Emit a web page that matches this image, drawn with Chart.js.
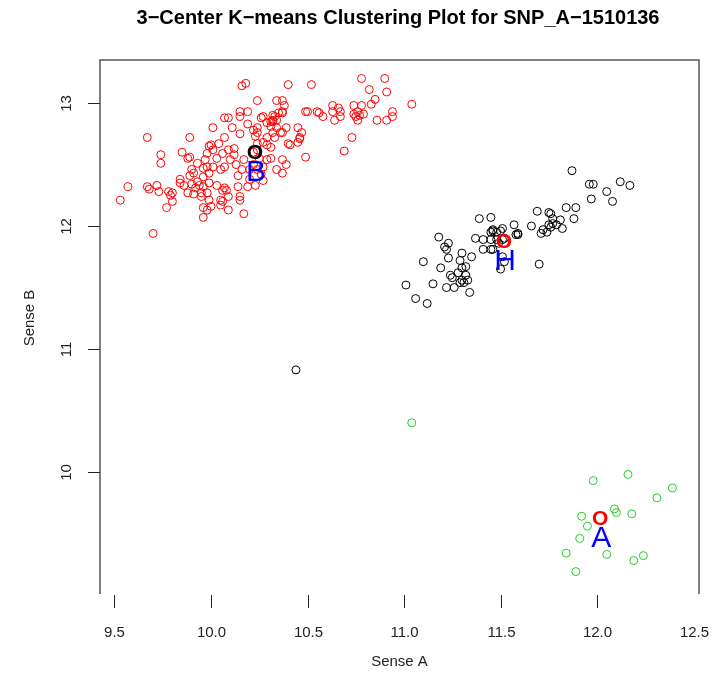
<!DOCTYPE html>
<html>
<head>
<meta charset="utf-8">
<title>K-means clustering</title>
<script src="https://cdn.jsdelivr.net/npm/chart.js@4.4.0/dist/chart.umd.min.js"></script>
<style>
  html, body { margin: 0; padding: 0; background: #fff; }
  #wrap { width: 718px; height: 673px; position: relative; }
</style>
</head>
<body>
<div id="wrap"><canvas id="kmeansChart" width="718" height="673"></canvas></div>
<script>
// Cluster B (red)
const redX = [10.16, 10.18, 10.24, 10.34, 9.67, 9.89, 10.01, 10.07, 10.09, 10.15, 10.15, 10.19, 10.19, 10.11, 10.15, 10.07,
  9.99, 10.04, 9.98, 9.85, 9.89, 9.74, 9.74, 9.90, 9.96, 9.84, 9.89, 9.57, 9.67, 9.68, 9.72, 9.73, 9.78, 9.79, 9.80, 9.80,
  9.86, 9.77, 9.53, 9.90, 9.92, 9.94, 9.91, 9.95, 9.99, 10.00, 9.96, 9.96, 10.05, 10.06, 10.09, 10.09, 10.08, 10.07, 10.03,
  10.15, 10.17, 10.19, 10.23, 10.27, 10.34, 10.31, 10.31, 10.29, 10.33, 10.26, 10.29, 10.32, 10.34, 10.35, 10.22, 10.23,
  10.24, 10.27, 9.70, 9.98, 10.40, 10.52, 10.78, 10.90, 10.82, 10.91, 10.85, 10.83, 11.04, 10.37, 10.38, 10.37, 10.33,
  10.32, 10.39, 10.45, 10.47, 10.46, 10.45, 10.40, 10.37, 10.37, 10.39, 10.37, 10.49, 10.49, 10.50, 10.55, 10.56, 10.58,
  10.63, 10.63, 10.64, 10.66, 10.67, 10.67, 10.74, 10.74, 10.75, 10.76, 10.78, 10.77, 10.79, 10.76, 10.73, 10.69, 10.86,
  10.91, 10.94, 10.94, 10.00, 10.01, 10.03, 10.06, 10.09, 10.12, 10.10, 10.07, 10.05, 10.01, 9.99, 9.96, 9.91, 9.93, 9.97,
  9.98, 9.93, 9.96, 9.99, 10.06, 10.05, 10.14, 10.16, 10.17, 10.20, 10.24, 10.27, 10.29, 10.24, 10.29, 10.32, 10.36, 10.46,
  10.41, 10.14, 10.15, 9.88, 9.95, 9.98, 9.88, 10.27, 10.31, 10.32, 10.34, 10.37, 10.24, 10.24, 10.31, 9.84, 10.22, 10.25,
  10.22, 10.26, 10.20, 10.12, 10.13];
const redY = [13.14, 13.16, 13.02, 13.02, 12.72, 12.72, 12.80, 12.88, 12.88, 12.93, 12.89, 12.93, 12.83, 12.80, 12.75, 12.72,
  12.65, 12.67, 12.59, 12.60, 12.56, 12.58, 12.51, 12.46, 12.47, 12.38, 12.41, 12.32, 12.32, 12.30, 12.33, 12.28, 12.28,
  12.25, 12.27, 12.20, 12.33, 12.15, 12.21, 12.34, 12.31, 12.33, 12.26, 12.27, 12.21, 12.16, 12.15, 12.07, 12.17, 12.20,
  12.13, 12.24, 12.29, 12.31, 12.33, 12.24, 12.10, 12.32, 12.33, 12.37, 12.46, 12.55, 12.64, 12.72, 12.72, 12.88, 12.84,
  12.86, 12.80, 12.92, 12.78, 12.73, 12.67, 12.68, 11.94, 12.13, 13.15, 13.15, 13.20, 13.20, 13.11, 13.09, 13.03, 12.99,
  12.99, 13.02, 12.98, 12.93, 12.89, 12.85, 12.80, 12.80, 12.76, 12.71, 12.68, 12.67, 12.76, 12.54, 12.50, 12.43, 12.56,
  12.93, 12.93, 12.93, 12.92, 12.89, 12.98, 12.93, 12.86, 12.96, 12.93, 12.89, 12.98, 12.91, 12.89, 12.93, 12.98, 12.90,
  12.91, 12.86, 12.72, 12.61, 12.86, 12.86, 12.93, 12.89, 12.66, 12.62, 12.55, 12.59, 12.62, 12.63, 12.54, 12.48, 12.46,
  12.48, 12.43, 12.40, 12.43, 12.51, 12.54, 12.48, 12.36, 12.32, 12.35, 12.29, 12.21, 12.41, 12.46, 12.54, 12.46, 12.46,
  12.48, 12.54, 12.62, 12.66, 12.76, 12.76, 12.72, 12.66, 12.32, 12.21, 12.27, 12.24, 12.27, 12.55, 12.89, 12.85, 12.90,
  12.86, 12.92, 12.76, 12.80, 12.81, 12.35, 12.60, 12.55, 12.50, 12.42, 12.38, 12.58, 12.50];

// Cluster H (black)
const blackX = [11.87, 11.96, 11.98, 12.12, 12.17, 12.05, 12.08, 11.97, 11.84, 11.89, 11.88, 11.82, 11.81, 11.75, 11.76,
  11.77, 11.75, 11.77, 11.79, 11.72, 11.71, 11.74, 11.76, 11.69, 11.66, 11.70, 11.57, 11.59, 11.59, 11.51, 11.52, 11.45,
  11.39, 11.46, 11.45, 11.46, 11.48, 11.37, 11.41, 11.45, 11.41, 11.45, 11.46, 11.49, 11.48, 11.51, 11.51, 11.52, 11.50,
  11.18, 11.23, 11.22, 11.21, 11.30, 11.29, 11.32, 11.30, 11.35, 11.28, 11.25, 11.24, 11.30, 11.29, 11.26, 11.34, 11.22,
  11.19, 11.15, 11.10, 11.01, 11.06, 11.12, 11.32, 11.33, 11.31, 11.23, 11.50, 11.58, 10.44];
const blackY = [12.45, 12.34, 12.34, 12.36, 12.33, 12.28, 12.20, 12.22, 12.15, 12.15, 12.06, 11.98, 12.05, 12.11, 12.10,
  12.06, 12.01, 12.02, 12.01, 11.97, 11.94, 11.95, 11.99, 12.12, 12.00, 11.69, 12.01, 11.94, 11.93, 11.98, 11.90, 12.07,
  12.06, 11.96, 11.95, 11.97, 11.95, 11.90, 11.89, 11.89, 11.81, 11.81, 11.81, 11.86, 11.89, 11.89, 11.75, 11.71, 11.65,
  11.91, 11.86, 11.81, 11.83, 11.78, 11.72, 11.67, 11.66, 11.75, 11.62, 11.58, 11.60, 11.56, 11.54, 11.50, 11.46, 11.50,
  11.66, 11.53, 11.71, 11.52, 11.41, 11.37, 11.60, 11.56, 11.54, 11.74, 11.96, 11.93, 10.83];

// Cluster A (green)
const greenX = [11.98, 12.16, 12.39, 12.31, 12.09, 12.10, 12.18, 11.92, 11.95, 11.91, 11.84, 12.05, 12.19, 12.24, 11.89, 11.04];
const greenY = [9.93, 9.98, 9.87, 9.79, 9.70, 9.67, 9.66, 9.64, 9.56, 9.46, 9.34, 9.33, 9.28, 9.32, 9.19, 10.40];

// Cluster centres and their letters
const centerX = [10.228, 11.518, 12.016];
const centerY = [12.61, 11.886, 9.634];
const centerLetters = ['B', 'H', 'A'];
const centerColors = ['#000000', '#ff0000', '#ff0000'];

// Axis ticks
const xTicks = [9.5, 10.0, 10.5, 11.0, 11.5, 12.0, 12.5];
const xTickLabels = ['9.5', '10.0', '10.5', '11.0', '11.5', '12.0', '12.5'];
const yTicks = [10, 11, 12, 13];
const yTickLabels = ['10', '11', '12', '13'];

const FONT = '"Liberation Sans", Arial, sans-serif';

const toPoints = (xs, ys) => xs.map((v, i) => ({ x: v, y: ys[i] }));

const ringStyle = color => ({
  showLine: false,
  pointStyle: 'circle',
  pointRadius: 4,
  pointHoverRadius: 4,
  pointBorderWidth: 1,
  borderColor: color,
  backgroundColor: 'rgba(0,0,0,0)',
  pointBackgroundColor: 'rgba(0,0,0,0)'
});

// base-R style frame, ticks, titles and centre glyphs
const rPlotPlugin = {
  id: 'rPlot',
  afterDraw(chart) {
    const { ctx, chartArea: a } = chart;
    const xs = chart.scales.x, ys = chart.scales.y;
    ctx.save();

    ctx.strokeStyle = '#555';
    ctx.lineWidth = 1.5;
    ctx.beginPath();
    ctx.moveTo(a.left, a.bottom);
    ctx.lineTo(a.left, a.top);
    ctx.lineTo(a.right, a.top);
    ctx.lineTo(a.right, a.bottom);
    ctx.stroke();

    // x axis
    ctx.strokeStyle = '#222';
    ctx.lineWidth = 1;
    ctx.fillStyle = '#222';
    ctx.font = '15px ' + FONT;
    ctx.textAlign = 'center';
    ctx.textBaseline = 'middle';
    xTicks.forEach((v, i) => {
      const px = Math.round(xs.getPixelForValue(v)) + 0.5;
      if (px < a.right - 8) {
        ctx.beginPath();
        ctx.moveTo(px, a.bottom + 1);
        ctx.lineTo(px, a.bottom + 14);
        ctx.stroke();
      }
      ctx.fillText(xTickLabels[i], px, a.bottom + 39);
    });

    // y axis
    yTicks.forEach((v, i) => {
      const py = Math.round(ys.getPixelForValue(v)) + 0.5;
      ctx.beginPath();
      ctx.moveTo(a.left - 12, py);
      ctx.lineTo(a.left, py);
      ctx.stroke();
      ctx.save();
      ctx.translate(a.left - 33, py);
      ctx.rotate(-Math.PI / 2);
      ctx.fillText(yTickLabels[i], 0, 0);
      ctx.restore();
    });

    // axis titles
    ctx.fillText('Sense A', (a.left + a.right) / 2, 662);
    ctx.save();
    ctx.translate(30, 318);
    ctx.rotate(-Math.PI / 2);
    ctx.fillText('Sense B', 0, 0);
    ctx.restore();

    // main title
    ctx.fillStyle = '#000';
    ctx.font = 'bold 20px ' + FONT;
    ctx.fillText('3\u2212Center K\u2212means Clustering Plot for SNP_A\u22121510136', 398, 18);

    // cluster centres: an "O" with the cluster letter just below
    ctx.textBaseline = 'alphabetic';
    centerX.forEach((v, i) => {
      const px = xs.getPixelForValue(v);
      const py = ys.getPixelForValue(centerY[i]);
      ctx.fillStyle = centerColors[i];
      ctx.font = 'bold 21px ' + FONT;
      ctx.fillText('O', px, py + 7.5);
      ctx.fillStyle = '#0000ff';
      ctx.font = '30px ' + FONT;
      ctx.fillText(centerLetters[i], px + 1, py + 19 + 10.8);
    });

    ctx.restore();
  }
};

new Chart(document.getElementById('kmeansChart'), {
  type: 'scatter',
  data: {
    datasets: [
      { label: 'B', data: toPoints(redX, redY), ...ringStyle('#ff0000') },
      { label: 'H', data: toPoints(blackX, blackY), ...ringStyle('#000000') },
      { label: 'A', data: toPoints(greenX, greenY), ...ringStyle('#22cc22') }
    ]
  },
  options: {
    responsive: false,
    animation: false,
    devicePixelRatio: 1,
    layout: { padding: { left: 100, top: 60, right: 19, bottom: 79 } },
    plugins: { legend: { display: false }, tooltip: { enabled: false }, title: { display: false } },
    scales: {
      x: { type: 'linear', min: 9.425, max: 12.528, display: false },
      y: { type: 'linear', min: 9.008, max: 13.35, display: false }
    }
  },
  plugins: [rPlotPlugin]
});
</script>
</body>
</html>
